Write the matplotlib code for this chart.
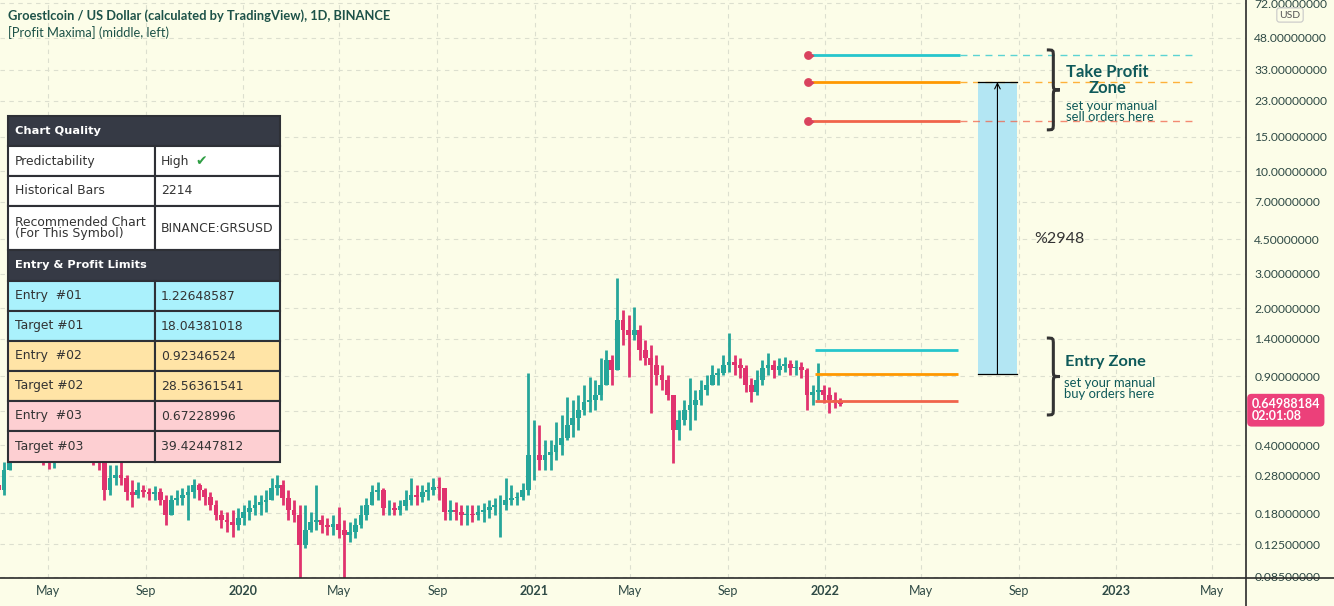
import matplotlib.pyplot as plt
import matplotlib.dates as mdates
from matplotlib.path import Path
from matplotlib.patches import PathPatch, Rectangle
from matplotlib.transforms import IdentityTransform, blended_transform_factory
from matplotlib.ticker import NullLocator
import numpy as np
import pandas as pd

plt.rcParams['font.family'] = ['Lato', 'DejaVu Sans']

# weekly candles (USD, log scale)
week_high = [0.266, 0.328, 0.425, 0.478, 0.538, 0.507, 0.478, 0.451, 0.425, 0.401,
             0.425, 0.451, 0.507, 0.538, 0.507, 0.451, 0.435, 0.425, 0.401, 0.336,
             0.317, 0.317, 0.328, 0.282, 0.266, 0.260, 0.251, 0.242, 0.248, 0.242,
             0.223, 0.223, 0.236, 0.242, 0.251, 0.269, 0.257, 0.242, 0.231, 0.210,
             0.187, 0.183, 0.187, 0.191, 0.198, 0.210, 0.223, 0.223, 0.236, 0.272,
             0.282, 0.266, 0.236, 0.210, 0.198, 0.198, 0.183, 0.251, 0.176, 0.170,
             0.176, 0.193, 0.166, 0.162, 0.170, 0.198, 0.215, 0.251, 0.260, 0.242,
             0.210, 0.205, 0.210, 0.236, 0.272, 0.251, 0.251, 0.260, 0.272, 0.275,
             0.236, 0.210, 0.205, 0.198, 0.198, 0.198, 0.198, 0.203, 0.210, 0.215,
             0.223, 0.272, 0.251, 0.231, 0.257, 0.934, 0.538, 0.507, 0.425, 0.425,
             0.526, 0.571, 0.706, 0.681, 0.722, 0.812, 0.892, 0.861, 1.115, 1.225,
             1.155, 2.857, 1.961, 1.849, 2.032, 1.644, 1.378, 1.299, 1.155, 1.027,
             0.913, 0.722, 0.605, 0.681, 0.882, 0.766, 0.861, 0.913, 1.027, 0.992,
             1.155, 1.497, 1.155, 1.115, 1.027, 0.882, 0.969, 1.089, 1.183, 1.089,
             1.115, 1.128, 1.089, 1.089, 1.064, 0.992, 0.812, 1.051, 0.812, 0.793,
             0.748, 0.697]
week_low = [0.215, 0.223, 0.299, 0.336, 0.357, 0.357, 0.336, 0.328, 0.317, 0.303,
            0.306, 0.328, 0.344, 0.357, 0.357, 0.336, 0.328, 0.317, 0.299, 0.210,
            0.223, 0.251, 0.251, 0.210, 0.193, 0.215, 0.218, 0.210, 0.210, 0.198,
            0.157, 0.176, 0.198, 0.198, 0.166, 0.215, 0.210, 0.198, 0.187, 0.166,
            0.152, 0.145, 0.136, 0.148, 0.157, 0.166, 0.176, 0.176, 0.183, 0.210,
            0.223, 0.198, 0.166, 0.162, 0.084, 0.120, 0.145, 0.148, 0.143, 0.139,
            0.139, 0.134, 0.084, 0.128, 0.134, 0.152, 0.166, 0.198, 0.210, 0.176,
            0.176, 0.176, 0.176, 0.187, 0.198, 0.198, 0.205, 0.210, 0.223, 0.210,
            0.166, 0.166, 0.166, 0.157, 0.157, 0.162, 0.166, 0.162, 0.170, 0.176,
            0.136, 0.187, 0.198, 0.198, 0.210, 0.223, 0.266, 0.299, 0.299, 0.299,
            0.336, 0.357, 0.425, 0.440, 0.478, 0.571, 0.591, 0.605, 0.681, 0.946,
            0.812, 1.462, 1.299, 0.892, 1.378, 1.089, 1.027, 0.584, 0.812, 0.766,
            0.681, 0.325, 0.425, 0.507, 0.478, 0.538, 0.642, 0.722, 0.812, 0.812,
            0.913, 0.946, 0.913, 0.882, 0.748, 0.665, 0.722, 0.812, 0.913, 0.882,
            0.913, 0.946, 0.913, 0.913, 0.882, 0.605, 0.642, 0.681, 0.657, 0.584,
            0.620, 0.635]
week_close = [0.236, 0.299, 0.357, 0.401, 0.451, 0.425, 0.378, 0.369, 0.357, 0.344,
              0.378, 0.401, 0.425, 0.451, 0.401, 0.387, 0.378, 0.357, 0.328, 0.236,
              0.272, 0.282, 0.272, 0.231, 0.223, 0.236, 0.231, 0.226, 0.231, 0.210,
              0.176, 0.210, 0.215, 0.223, 0.231, 0.251, 0.236, 0.218, 0.198, 0.176,
              0.166, 0.162, 0.157, 0.170, 0.183, 0.191, 0.198, 0.205, 0.210, 0.242,
              0.251, 0.215, 0.187, 0.176, 0.124, 0.148, 0.162, 0.166, 0.157, 0.153,
              0.159, 0.148, 0.139, 0.145, 0.157, 0.176, 0.198, 0.231, 0.236, 0.191,
              0.191, 0.187, 0.196, 0.210, 0.223, 0.218, 0.231, 0.236, 0.245, 0.242,
              0.183, 0.187, 0.183, 0.176, 0.178, 0.176, 0.183, 0.187, 0.193, 0.198,
              0.198, 0.210, 0.215, 0.218, 0.236, 0.357, 0.357, 0.336, 0.357, 0.369,
              0.401, 0.435, 0.507, 0.551, 0.605, 0.665, 0.681, 0.722, 0.812, 1.089,
              0.969, 1.744, 1.550, 1.462, 1.550, 1.225, 1.115, 1.027, 0.913, 0.861,
              0.722, 0.478, 0.538, 0.605, 0.642, 0.681, 0.766, 0.812, 0.913, 0.935,
              1.027, 1.064, 1.027, 0.992, 0.812, 0.748, 0.861, 0.992, 1.027, 0.969,
              1.015, 1.039, 0.992, 1.003, 0.969, 0.722, 0.748, 0.766, 0.722, 0.681,
              0.665, 0.6499]
first_open = 0.25
weeks = pd.date_range('2019-02-28', periods=len(week_close), freq='7D')

entries = [1.22648587, 0.92346524, 0.67228996]
targets = [18.04381018, 28.56361541, 39.42447812]
last_price = 0.64988184
countdown = '02:01:08'
move_label = '%2948'

price_ticks = [0.085, 0.125, 0.18, 0.28, 0.4, 0.6, 0.9, 1.4, 2, 3, 4.5, 7, 10, 15, 23, 33, 48, 72]
date_ticks = ['2019-05-01', '2019-09-01', '2020-01-01', '2020-05-01', '2020-09-01', '2021-01-01',
              '2021-05-01', '2021-09-01', '2022-01-01', '2022-05-01', '2022-09-01', '2023-01-01',
              '2023-05-01']
date_labels = ['May', 'Sep', '2020', 'May', 'Sep', '2021', 'May', 'Sep', '2022', 'May', 'Sep', '2023', 'May']

table_left = ['Chart Quality', 'Predictability', 'Historical Bars', 'Recommended Chart\n(For This Symbol)',
              'Entry & Profit Limits', 'Entry  #01', 'Target #01', 'Entry  #02', 'Target #02',
              'Entry  #03', 'Target #03']
table_right = [None, 'High', '2214', 'BINANCE:GRSUSD', None,
               f'{entries[0]:.8f}', f'{targets[0]:.8f}', f'{entries[1]:.8f}', f'{targets[1]:.8f}',
               f'{entries[2]:.8f}', f'{targets[2]:.8f}']
table_fill = ['#363a45', 'white', 'white', 'white', '#363a45',
              '#aaf1fc', '#aaf1fc', '#ffe4a6', '#ffe4a6', '#fdcfd2', '#fdcfd2']
row_h = [30, 30, 30, 44, 31, 30, 30, 30, 30, 30, 31]

bg = '#fcfde8'
teal = '#0f5a5a'
lvl_colors = ['#26c6cc', '#ff9800', '#f0644a']

fig = plt.figure(figsize=(13.34, 6.06), dpi=100)
fig.patch.set_facecolor(bg)
ax = fig.add_axes([0, 28 / 606, 1246 / 1334, 578 / 606])
ax.set_facecolor(bg)
ax.set_yscale('log')
ax.set_xlim(pd.Timestamp('2019-03-02'), pd.Timestamp('2023-06-13'))
ax.set_ylim(0.0840, 75.0)
for s in ax.spines.values():
    s.set_visible(False)

# candles
close = np.array(week_close)
opens = np.array([first_open] + week_close[:-1])
hi = np.maximum(np.array(week_high), np.maximum(opens, close))
lo = np.minimum(np.array(week_low), np.minimum(opens, close))
cols = np.where(close >= opens, '#26a69a', '#e0336e')
ax.vlines(weeks, lo, hi, colors=cols, lw=2.0, zorder=2)
ax.bar(weeks, np.abs(close - opens), bottom=np.minimum(opens, close), width=6, color=cols, lw=0, zorder=2)

# entry lines
for v, c in zip(entries, lvl_colors):
    ax.plot(pd.to_datetime(['2021-12-19', '2022-06-17']), [v, v], color=c, lw=2, solid_capstyle='butt', zorder=4)

# target lines with pin markers
t = np.linspace(np.radians(35), np.radians(325), 20)
pin = list(zip(np.cos(t), np.sin(t))) + [(1.5, 0)]
for v, c in zip(targets, lvl_colors[::-1]):
    ax.plot(pd.to_datetime(['2021-12-10', '2022-06-19']), [v, v], color=c, lw=2, solid_capstyle='butt', zorder=4)
    ax.plot(pd.to_datetime(['2022-06-19', '2023-04-09']), [v, v], color=c, lw=1, ls=(0, (5, 4)), alpha=0.75, zorder=4)
    ax.plot(pd.Timestamp('2021-12-10'), v, marker=pin, ms=8, color='#d9435e', zorder=5)

# move box
bx = pd.to_datetime(['2022-07-12', '2022-08-30'])
ax.fill_between(bx, entries[1], targets[1], color='#b3e6f3', lw=0, zorder=3)
ax.plot(bx, [entries[1]] * 2, color='black', lw=0.9, zorder=4)
ax.plot(bx, [targets[1]] * 2, color='black', lw=0.9, zorder=4)
mid = pd.Timestamp('2022-08-05')
ax.annotate('', xy=(mid, targets[1]), xytext=(mid, entries[1]),
            arrowprops=dict(arrowstyle='->', lw=0.8, color='black', shrinkA=0, shrinkB=0), zorder=4)
ax.text(pd.Timestamp('2022-09-20'), 4.52, move_label, fontsize=11.5, color='#333333', va='center')


def brace(x_date, y_top, y_bot, w=13):
    x0, yt = ax.transData.transform((mdates.date2num(pd.Timestamp(x_date)), y_top))
    _, yb = ax.transData.transform((mdates.date2num(pd.Timestamp(x_date)), y_bot))
    ym = (yt + yb) / 2
    xm = x0 + w / 2
    r = w / 2
    verts = [(x0, yt), (xm, yt), (xm, yt), (xm, yt - r), (xm, ym + r),
             (xm, ym), (xm, ym), (x0 + w, ym), (xm, ym), (xm, ym), (xm, ym - r),
             (xm, yb + r), (xm, yb), (xm, yb), (x0, yb)]
    codes = [Path.MOVETO, Path.CURVE4, Path.CURVE4, Path.CURVE4, Path.LINETO,
             Path.CURVE4, Path.CURVE4, Path.CURVE4, Path.CURVE4, Path.CURVE4, Path.CURVE4,
             Path.LINETO, Path.CURVE4, Path.CURVE4, Path.CURVE4]
    fig.add_artist(PathPatch(Path(verts, codes), fc='none', ec='#333333', lw=2.2,
                             transform=IdentityTransform()))


brace('2022-10-06', 41.7, 16.3)
brace('2022-10-06', 1.41, 0.571)

ax.text(pd.Timestamp('2022-12-21'), 29.3, 'Take Profit\nZone', ha='center', va='center',
        fontsize=12, weight='bold', color=teal, linespacing=0.95)
ax.text(pd.Timestamp('2022-10-30'), 20.3, 'set your manual\nsell orders here', ha='left', va='center',
        fontsize=9.4, color=teal, linespacing=0.9)
ax.text(pd.Timestamp('2022-10-29'), 1.064, 'Entry Zone', ha='left', va='center',
        fontsize=11.8, weight='bold', color=teal)
ax.text(pd.Timestamp('2022-10-28'), 0.775, 'set your manual\nbuy orders here', ha='left', va='center',
        fontsize=9.4, color=teal, linespacing=0.9)

# axes, ticks, grid
ax.yaxis.tick_right()
ax.set_yticks(price_ticks)
ax.set_yticklabels(['' if p == 0.6 else f'{p:.8f}' for p in price_ticks])
ax.yaxis.set_minor_locator(NullLocator())
ax.set_xticks(pd.to_datetime(date_ticks))
ax.set_xticklabels(date_labels)
for lab in ax.get_xticklabels():
    if lab.get_text().isdigit():
        lab.set_fontweight('bold')
ax.tick_params(axis='y', length=0, pad=6, labelsize=8.7, labelcolor='#2f4a45')
ax.tick_params(axis='x', length=0, pad=5, labelsize=9, labelcolor='#2f4a45')
ax.grid(True, ls=(0, (4, 4)), color='#dcdfcf', lw=0.8)
ax.set_axisbelow(True)

blend = blended_transform_factory(ax.transAxes, ax.transData)
ax.annotate(f'{last_price:.8f}\n{countdown}', xy=(1, last_price), xycoords=blend,
            xytext=(4, -4.5), textcoords='offset points', ha='left', va='center',
            color='white', fontsize=9, weight='bold', linespacing=1.0,
            bbox=dict(boxstyle='round,pad=0.35', fc='#ec407a', ec='none'), annotation_clip=False)

fig.text(1290 / 1334, 1 - 15 / 606, 'USD', fontsize=7.5, color='#555555', ha='center', va='center',
         bbox=dict(boxstyle='round,pad=0.25', fc=bg, ec='#c8c8c8', lw=0.8))

fig.text(8 / 1334, 1 - 16 / 606, 'Groestlcoin / US Dollar (calculated by TradingView), 1D, BINANCE',
         fontsize=9.25, weight='bold', color='#1d5248', va='center')
fig.text(8 / 1334, 1 - 33 / 606, '[Profit Maxima] (middle, left)', fontsize=9.25, color='#1d5248', va='center')

# overlay in pixel coordinates: axis lines and info table
ov = fig.add_axes([0, 0, 1, 1], zorder=5)
ov.set_xlim(0, 1334)
ov.set_ylim(606, 0)
ov.axis('off')
ov.patch.set_alpha(0)
ov.plot([1246, 1246], [0, 606], color='#2b2b2b', lw=1.2)
ov.plot([0, 1334], [578, 578], color='#2b2b2b', lw=1.2)

top = 116
for left, right, fc, h in zip(table_left, table_right, table_fill, row_h):
    if right is None:
        ov.add_patch(Rectangle((8, top), 272, h, fc=fc, ec='#2e3036', lw=1.5))
        ov.text(15, top + h / 2, left, color='white', weight='bold', fontsize=8.2,
                family='DejaVu Sans', va='center')
    else:
        ov.add_patch(Rectangle((8, top), 147, h, fc=fc, ec='#2e3036', lw=1.5))
        ov.add_patch(Rectangle((155, top), 125, h, fc=fc, ec='#2e3036', lw=1.5))
        ov.text(15, top + h / 2, left, color='#333333', fontsize=8.9, family='DejaVu Sans',
                va='center', linespacing=0.9)
        ov.text(161, top + h / 2, right, color='#333333', fontsize=8.9, family='DejaVu Sans', va='center')
        if right == 'High':
            ov.text(195, top + h / 2, '\u2714', color='#2f9e44', fontsize=10, family='DejaVu Sans', va='center')
    top += h

fig.savefig('out.png', dpi=100, facecolor=bg)
